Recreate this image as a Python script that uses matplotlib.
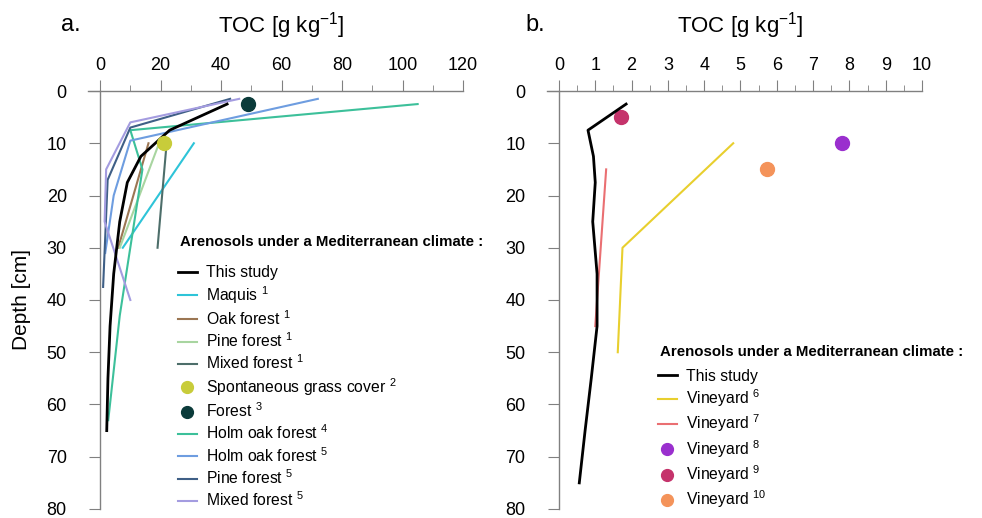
import matplotlib
matplotlib.use('Agg')
import matplotlib.pyplot as plt
from matplotlib.ticker import MultipleLocator

plt.rcParams['font.family'] = ['Liberation Sans', 'DejaVu Sans']
plt.rcParams['mathtext.fontset'] = 'custom'
plt.rcParams['mathtext.rm'] = 'Liberation Sans'
plt.rcParams['mathtext.it'] = 'Liberation Sans'

# panel a: TOC [g/kg] vs depth [cm]
study_a_toc = [42, 23, 13.5, 9, 6.5, 4.5, 3.3, 2.6, 2.2]
study_a_depth = [2.5, 7.5, 12.5, 17.5, 25, 35, 45, 55, 65]
maquis_toc, maquis_depth = [31, 7.5], [10, 30]
oak_toc, oak_depth = [16, 6], [10, 30]
pine1_toc, pine1_depth = [19.5, 6.5], [10, 30]
mixed1_toc, mixed1_depth = [22, 19], [10, 30]
grass_toc, grass_depth = [21], [10]
forest3_toc, forest3_depth = [49], [2.5]
holm4_toc = [105, 10, 14, 6.5, 2.7]
holm4_depth = [2.5, 7.5, 15, 43, 63]
holm5_toc = [72, 10, 4.5, 1.7]
holm5_depth = [1.5, 9.5, 20, 31]
pine5_toc = [43, 10, 2.5, 1]
pine5_depth = [1.5, 7, 17, 37.5]
mixed5_toc = [46, 10, 2, 1.5, 10]
mixed5_depth = [1.5, 6, 15, 25, 40]

# panel b
study_b_toc = [1.85, 0.8, 0.95, 1.0, 0.93, 1.05, 1.05, 0.89, 0.72, 0.56]
study_b_depth = [2.5, 7.5, 12.5, 17.5, 25, 35, 45, 55, 65, 75]
vin6_toc, vin6_depth = [4.8, 1.75, 1.62], [10, 30, 50]
vin7_toc, vin7_depth = [1.3, 1.0], [15, 45]
vin8_toc, vin8_depth = [7.8], [10]
vin9_toc, vin9_depth = [1.7], [5]
vin10_toc, vin10_depth = [5.73], [15]

depth_ticks = list(range(0, 81, 10))

fig = plt.figure(figsize=(9.82, 5.18), dpi=100)
ax1 = fig.add_axes([0.0896, 0.0174, 0.3819, 0.8069])
ax2 = fig.add_axes([0.557, 0.0174, 0.3819, 0.8069])

lw = 1.5
ms = 10
ax1.plot(study_a_toc, study_a_depth, color='black', lw=2, label='This study', zorder=5)
ax1.plot(maquis_toc, maquis_depth, color='#2ec4d8', lw=lw, label=r'Maquis $^{\mathrm{1}}$')
ax1.plot(oak_toc, oak_depth, color='#9b7653', lw=lw, label=r'Oak forest $^{\mathrm{1}}$')
ax1.plot(pine1_toc, pine1_depth, color='#a8d5a0', lw=lw, label=r'Pine forest $^{\mathrm{1}}$')
ax1.plot(mixed1_toc, mixed1_depth, color='#4d6e6a', lw=lw, label=r'Mixed forest $^{\mathrm{1}}$')
ax1.plot(grass_toc, grass_depth, 'o', color='#c8cc3a', ms=ms, label=r'Spontaneous grass cover $^{\mathrm{2}}$', zorder=6)
ax1.plot(forest3_toc, forest3_depth, 'o', color='#0b3b3a', ms=ms, label=r'Forest $^{\mathrm{3}}$', zorder=6)
ax1.plot(holm4_toc, holm4_depth, color='#3cc09a', lw=lw, label=r'Holm oak forest $^{\mathrm{4}}$')
ax1.plot(holm5_toc, holm5_depth, color='#6e9de0', lw=lw, label=r'Holm oak forest $^{\mathrm{5}}$')
ax1.plot(pine5_toc, pine5_depth, color='#3f5f86', lw=lw, label=r'Pine forest $^{\mathrm{5}}$')
ax1.plot(mixed5_toc, mixed5_depth, color='#a49ce0', lw=lw, label=r'Mixed forest $^{\mathrm{5}}$')

ax2.plot(study_b_toc, study_b_depth, color='black', lw=2, label='This study', zorder=5)
ax2.plot(vin6_toc, vin6_depth, color='#e8cf2e', lw=lw, label=r'Vineyard $^{\mathrm{6}}$')
ax2.plot(vin7_toc, vin7_depth, color='#ea6f72', lw=lw, label=r'Vineyard $^{\mathrm{7}}$')
ax2.plot(vin8_toc, vin8_depth, 'o', color='#9a2fce', ms=ms, label=r'Vineyard $^{\mathrm{8}}$')
ax2.plot(vin9_toc, vin9_depth, 'o', color='#c5336b', ms=ms, label=r'Vineyard $^{\mathrm{9}}$')
ax2.plot(vin10_toc, vin10_depth, 'o', color='#f4935a', ms=ms, label=r'Vineyard $^{\mathrm{10}}$')

for ax, xmax, xstep, xminor, xpad in [(ax1, 120, 20, 10, -4), (ax2, 10, 1, 0.5, -0.33)]:
    ax.set_xlim(xpad, xmax)
    ax.set_ylim(80, 0)
    ax.xaxis.set_major_locator(MultipleLocator(xstep))
    ax.xaxis.set_minor_locator(MultipleLocator(xminor))
    ax.set_yticks(depth_ticks)
    ax.xaxis.tick_top()
    ax.spines['right'].set_visible(False)
    ax.spines['bottom'].set_visible(False)
    ax.spines['left'].set_position(('data', 0))
    for s in ['left', 'top']:
        ax.spines[s].set_color('#808080')
        ax.spines[s].set_linewidth(1.0)
    ax.tick_params(axis='x', which='major', direction='out', length=8, color='#808080', labelsize=13, pad=4)
    ax.tick_params(axis='x', which='minor', direction='out', length=4, color='#808080')
    ax.tick_params(axis='y', direction='out', length=8, color='#808080', labelsize=13, pad=16)
    ax.set_xlabel('TOC [g kg$^{-1}$]', fontsize=16)
    ax.xaxis.set_label_position('top')
    ax.xaxis.set_label_coords(0.515, 1.14)
    # drop the tick at the padded edge
    ax.set_xticks([t for t in ax.get_xticks() if t >= 0 and t <= xmax])

ax1.set_ylabel('Depth [cm]', fontsize=15)
ax1.yaxis.set_label_coords(-0.152, 0.5)

fig.text(0.062, 0.952, 'a.', fontsize=17, ha='left', va='center')
fig.text(0.535, 0.952, 'b.', fontsize=17, ha='left', va='center')

# legend titles as separate texts (extra gap below them in the original)
leg_title = 'Arenosols under a Mediterranean climate :'
fig.text(180 / 982, 1 - 242 / 518, leg_title, fontsize=10.8, weight='bold', ha='left', va='center')
fig.text(660 / 982, 1 - 352 / 518, leg_title, fontsize=10.8, weight='bold', ha='left', va='center')

leg_kw = dict(frameon=False, fontsize=11.3, handlelength=1.2, handletextpad=0.6, labelspacing=0.23,
              markerscale=0.85, borderpad=0, borderaxespad=0, bbox_transform=fig.transFigure)
leg1 = ax1.legend(loc='upper left', bbox_to_anchor=(0.181, 0.488), **leg_kw)
leg2 = ax2.legend(loc='upper left', bbox_to_anchor=(0.670, 0.288), **leg_kw)

fig.savefig('out.png', dpi=100)
